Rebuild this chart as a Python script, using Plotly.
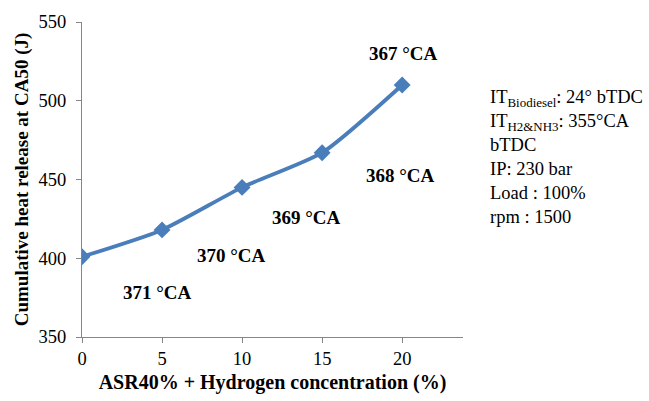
import plotly.graph_objects as go

x_vals = [0, 5, 10, 15, 20]
heat_release = [401, 418, 445, 467, 510]
ca50_labels = ["371 °CA", "370 °CA", "369 °CA", "368 °CA", "367 °CA"]
label_x = [4.69, 9.31, 14.0, 19.9, 20.1]
label_y = [378.4, 401.7, 425.7, 452.8, 529.8]

FONT = "Liberation Serif, Times New Roman, serif"
LINE_COLOR = "#4A7EBB"

fig = go.Figure()
fig.add_trace(go.Scatter(
    x=x_vals, y=heat_release, mode="lines+markers",
    line=dict(color=LINE_COLOR, width=3.8, shape="spline", smoothing=0.6),
    marker=dict(symbol="diamond", size=13, color=LINE_COLOR),
    showlegend=False, hoverinfo="x+y",
))

for t, lx, ly in zip(ca50_labels, label_x, label_y):
    fig.add_annotation(x=lx, y=ly, text="<b>" + t + "</b>", showarrow=False,
                       font=dict(family=FONT, size=19, color="black"))

side_text = ("IT<sub>Biodiesel</sub>: 24° bTDC<br>IT<sub>H2&NH3</sub>: 355°CA<br>bTDC<br>"
             "IP: 230 bar<br>Load : 100%<br>rpm : 1500")
fig.add_annotation(xref="paper", yref="paper", x=1.066, y=0.80, xanchor="left", yanchor="top",
                   text=side_text, showarrow=False, align="left",
                   font=dict(family=FONT, size=18.5, color="black"))

fig.update_layout(
    width=649, height=401,
    margin=dict(l=82, r=186, t=22, b=62),
    paper_bgcolor="white", plot_bgcolor="white",
    font=dict(family=FONT, size=18.5, color="black"),
    xaxis=dict(range=[0, 23.8], tickvals=[0, 5, 10, 15, 20], showgrid=False, zeroline=False,
               showline=True, linecolor="#868686", linewidth=1, ticks="outside", ticklen=5,
               tickcolor="#868686",
               title=dict(text="<b>ASR40% + Hydrogen concentration (%)</b>",
                          font=dict(family=FONT, size=20), standoff=6)),
    yaxis=dict(range=[350, 550], tickvals=[350, 400, 450, 500, 550], showgrid=False, zeroline=False,
               showline=True, linecolor="#868686", linewidth=1, ticks="outside", ticklen=5,
               tickcolor="#868686", ticklabelstandoff=6,
               title=dict(text="<b>Cumulative heat release at CA50 (J)</b>",
                          font=dict(family=FONT, size=19), standoff=4)),
)

fig.write_html("out.html")
